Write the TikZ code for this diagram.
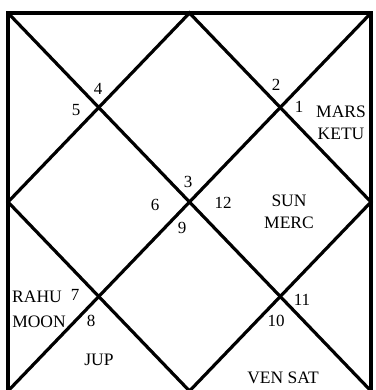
\documentclass[tikz,border=0pt]{standalone}
\usepackage{fontspec}
\setmainfont{Liberation Serif}
\usepackage{tikz}
\usetikzlibrary{positioning,calc}

\begin{document}
\begin{tikzpicture}[
    x=1pt, y=-1pt,
    chartline/.style={draw=black, line width=3.2pt},
    housenum/.style={font=\fontsize{17}{18}\selectfont, inner sep=0pt},
    planet/.style={font=\fontsize{17.5}{22}\selectfont, inner sep=0pt, align=center}
]
\useasboundingbox (0,0) rectangle (375,390);
% frame of the chart
\coordinate (tl) at (8,13);
\coordinate (tr) at (371,13);
\coordinate (bl) at (8,391);
\coordinate (br) at (371,391);
\coordinate (tm) at (189.5,13);
\coordinate (bm) at (189.5,391);
\coordinate (lm) at (8,202);
\coordinate (rm) at (371,202);
\draw[chartline] (bl) -- (tl) -- (tr) -- (br);
\draw[chartline] (tl) -- (br);
\draw[chartline] (tr) -- (bl);
\draw[chartline] (tm) -- (rm) -- (bm) -- (lm) -- cycle;
% house numbers
\node[housenum] (h1) at (299,107) {1};
\node[housenum] (h2) at (276,85) {2};
\node[housenum] (h3) at (188,182) {3};
\node[housenum] (h4) at (98,89) {4};
\node[housenum] (h5) at (76,110) {5};
\node[housenum] (h6) at (155,205) {6};
\node[housenum] (h7) at (75,295) {7};
\node[housenum] (h8) at (91,321) {8};
\node[housenum] (h9) at (182,228) {9};
\node[housenum] (h10) at (276,321) {10};
\node[housenum] (h11) at (302,300) {11};
\node[housenum] (h12) at (223,203) {12};
% planets
\node[planet] (marsketu) at (341,123) {MARS\\KETU};
\node[planet] (sunmerc) at (289,212) {SUN\\MERC};
\node[planet] (rahu) at (37,297) {RAHU};
\node[planet] (moon) at (39,322) {MOON};
\node[planet] (jup) at (99,360) {JUP};
\node[planet] (vensat) at (283,378) {VEN SAT};
\end{tikzpicture}
\end{document}
